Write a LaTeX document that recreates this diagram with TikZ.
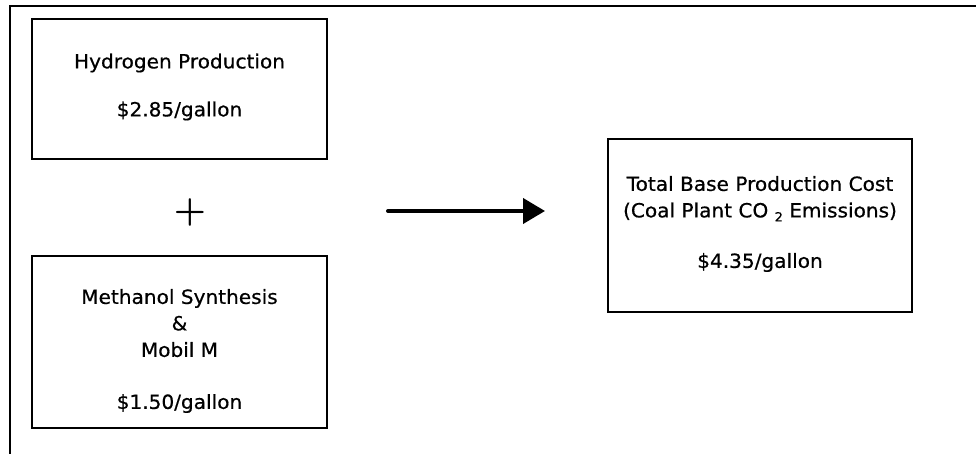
\documentclass[tikz,border=0pt]{standalone}
\usepackage{fontspec}
\setmainfont{DejaVu Sans}[FakeStretch=1.03,FakeBold=0.6]
\usetikzlibrary{arrows.meta}

\tikzset{costbox/.style={draw, line width=2pt, inner sep=0pt},
  costtext/.style={align=center, inner sep=0pt, font=\fontsize{19.5}{26.5}\selectfont}}

\begin{document}
\begin{tikzpicture}[x=1pt,y=-1pt]
\useasboundingbox (0,0) rectangle (976,454);
\draw[line width=2pt] (10,454) -- (10,6) -- (976,6);
\node[costbox, minimum width=295, minimum height=140] (hydro) at (179.5,89) {};
\node[costtext] (hydrotxt) at (179.5,87) {Hydrogen Production\\[21.5pt]\$2.85/gallon};
\node[inner sep=0pt] (plus) at (190,213) {\scalebox{3.6}{\boldmath$+$}};
\node[costbox, minimum width=295, minimum height=172] (meth) at (179.5,342) {};
\node[costtext] (methtxt) at (179.5,351) {Methanol Synthesis\\\&\\Mobil M\\[25.5pt]\$1.50/gallon};
\node[costbox, minimum width=304, minimum height=173] (total) at (760,225.5) {};
\node[costtext] (totaltxt) at (760,224) {Total Base Production Cost\\(Coal Plant CO \raisebox{-4pt}{\fontsize{12.5}{12.5}\selectfont 2} Emissions)\\[24pt]\$4.35/gallon};
\coordinate (arrS) at (388,211);
\coordinate (arrE) at (545,211);
\draw[line width=4pt, line cap=round, -{Triangle[length=22pt,width=25pt]}] (arrS) -- (arrE);
\end{tikzpicture}
\end{document}
